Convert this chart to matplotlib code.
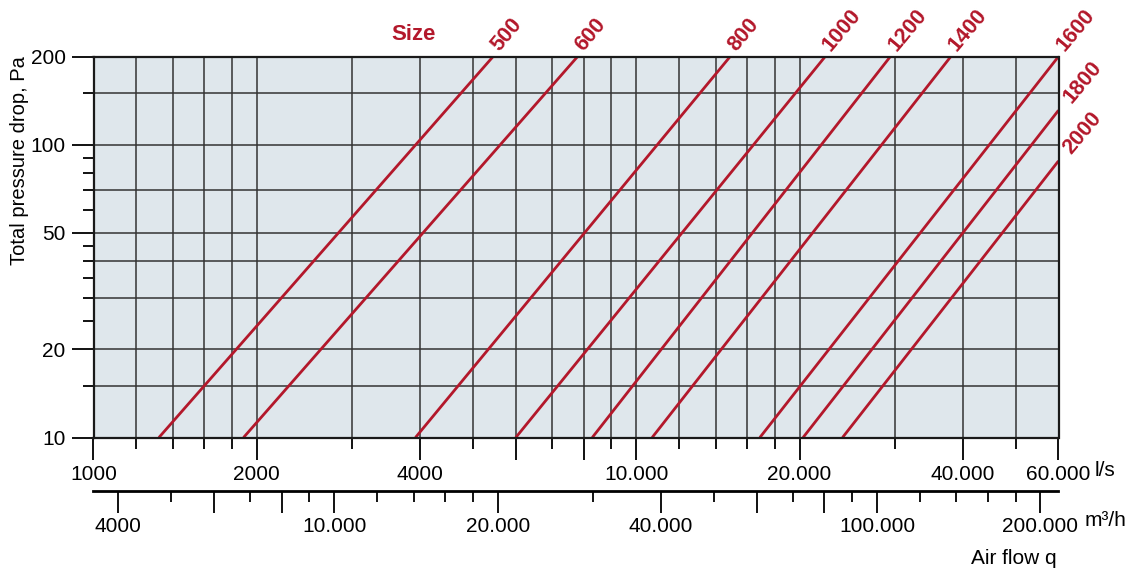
import matplotlib
matplotlib.use("Agg")
import matplotlib.pyplot as plt
from matplotlib.ticker import FixedLocator, NullFormatter, FixedFormatter

plt.rcParams['font.family'] = ['Liberation Sans', 'DejaVu Sans']

# damper sizes: flow at 10 Pa and end point of each line (l/s, Pa)
sizes = ['500', '600', '800', '1000', '1200', '1400', '1600', '1800', '2000']
q_start = [1320, 1890, 3920, 6000, 8300, 10700, 16900, 20300, 24000]
q_end = [5450, 7800, 14900, 22300, 29400, 38000, 60000, 60000, 60000]
dp_end = [200, 200, 200, 200, 200, 200, 200, 131, 88]

# l/s axis
ls_major = [1000, 2000, 4000, 6000, 8000, 10000, 20000, 40000, 60000]
ls_labels = ['1000', '2000', '4000', '', '', '10.000', '20.000', '40.000', '60.000']
ls_minor = [1200, 1400, 1600, 1800, 3000, 5000, 7000, 9000,
            12000, 14000, 16000, 18000, 30000, 50000]
x_grid = [1200, 1400, 1600, 1800, 2000, 3000, 4000, 5000, 6000, 7000, 8000, 9000,
          10000, 12000, 14000, 16000, 18000, 20000, 30000, 40000, 50000]

# m3/h axis
m3_major = [4000, 6000, 8000, 10000, 20000, 40000, 60000, 80000, 100000, 200000]
m3_labels = ['4000', '', '', '10.000', '20.000', '40.000', '', '', '100.000', '200.000']
m3_minor = [5000, 7000, 9000, 12000, 14000, 16000, 18000, 30000, 50000, 70000,
            90000, 120000, 140000, 160000, 180000]

# pressure axis
dp_major = [10, 20, 50, 100, 200]
dp_labels = ['10', '20', '50', '100', '200']
dp_minor = [15, 25, 30, 35, 40, 45, 60, 70, 80, 90, 150]
y_grid = [15, 20, 30, 40, 50, 70, 100, 150]

red = '#b3182b'
W, H = 1132, 575
fig = plt.figure(figsize=(W / 100, H / 100), dpi=100)
ax = fig.add_axes([93.5 / W, 1 - 437.5 / H, 965 / W, 381 / H])
ax.set_xscale('log')
ax.set_yscale('log')
ax.set_xlim(1000, 60000)
ax.set_ylim(10, 200)
ax.set_facecolor('#dfe7ec')

for x in x_grid:
    ax.axvline(x, color='#333333', lw=1.1, zorder=1)
for y in y_grid:
    ax.axhline(y, color='#333333', lw=1.1, zorder=1)

for s, q0, q1, d1 in zip(sizes, q_start, q_end, dp_end):
    ax.plot([q0, q1], [10, d1], color=red, lw=2.0, solid_capstyle='butt', zorder=3)
    if d1 < 200:
        off = (12, 2)
    else:
        off = (7, 1)
    ax.annotate(s, xy=(q1, d1), xytext=off, textcoords='offset points',
                ha='left', va='bottom', rotation=50, rotation_mode='anchor',
                color=red, fontsize=15.5, fontweight='bold', annotation_clip=False)

for sp in ax.spines.values():
    sp.set_linewidth(1.6)
    sp.set_color('#1a1a1a')
    sp.set_zorder(4)

ax.xaxis.set_major_locator(FixedLocator(ls_major))
ax.xaxis.set_major_formatter(FixedFormatter(ls_labels))
ax.xaxis.set_minor_locator(FixedLocator(ls_minor))
ax.xaxis.set_minor_formatter(NullFormatter())
ax.yaxis.set_major_locator(FixedLocator(dp_major))
ax.yaxis.set_major_formatter(FixedFormatter(dp_labels))
ax.yaxis.set_minor_locator(FixedLocator(dp_minor))
ax.yaxis.set_minor_formatter(NullFormatter())
ax.tick_params(which='major', length=16, width=1.4, labelsize=15, color='#111111')
ax.tick_params(which='minor', length=8, width=1.4, color='#111111')
ax.tick_params(axis='x', which='major', pad=4)
ax.tick_params(axis='y', which='major', pad=4)

sec = ax.secondary_xaxis(-(491 - 437.5) / 381, functions=(lambda q: q * 3.6, lambda q: q / 3.6))
sec.xaxis.set_major_locator(FixedLocator(m3_major))
sec.xaxis.set_major_formatter(FixedFormatter(m3_labels))
sec.xaxis.set_minor_locator(FixedLocator(m3_minor))
sec.xaxis.set_minor_formatter(NullFormatter())
sec.tick_params(which='major', length=16, width=1.4, labelsize=15, pad=3, color='#111111')
sec.tick_params(which='minor', length=8, width=1.4, color='#111111')
sec.spines['bottom'].set_linewidth(2)

fig.text(1095 / W, 1 - 470 / H, 'l/s', fontsize=15, ha='left', va='center')
fig.text(1085 / W, 1 - 520 / H, 'm³/h', fontsize=15, ha='left', va='center')
fig.text(1057 / W, 1 - 558 / H, 'Air flow q', fontsize=15, ha='right', va='center')
fig.text(414 / W, 1 - 34 / H, 'Size', fontsize=16, fontweight='bold', color=red,
         ha='center', va='center')
fig.text(20 / W, 1 - 56 / H, 'Total pressure drop, Pa', fontsize=14.5, rotation=90,
         ha='center', va='top')

fig.savefig('out.png', dpi=100)
